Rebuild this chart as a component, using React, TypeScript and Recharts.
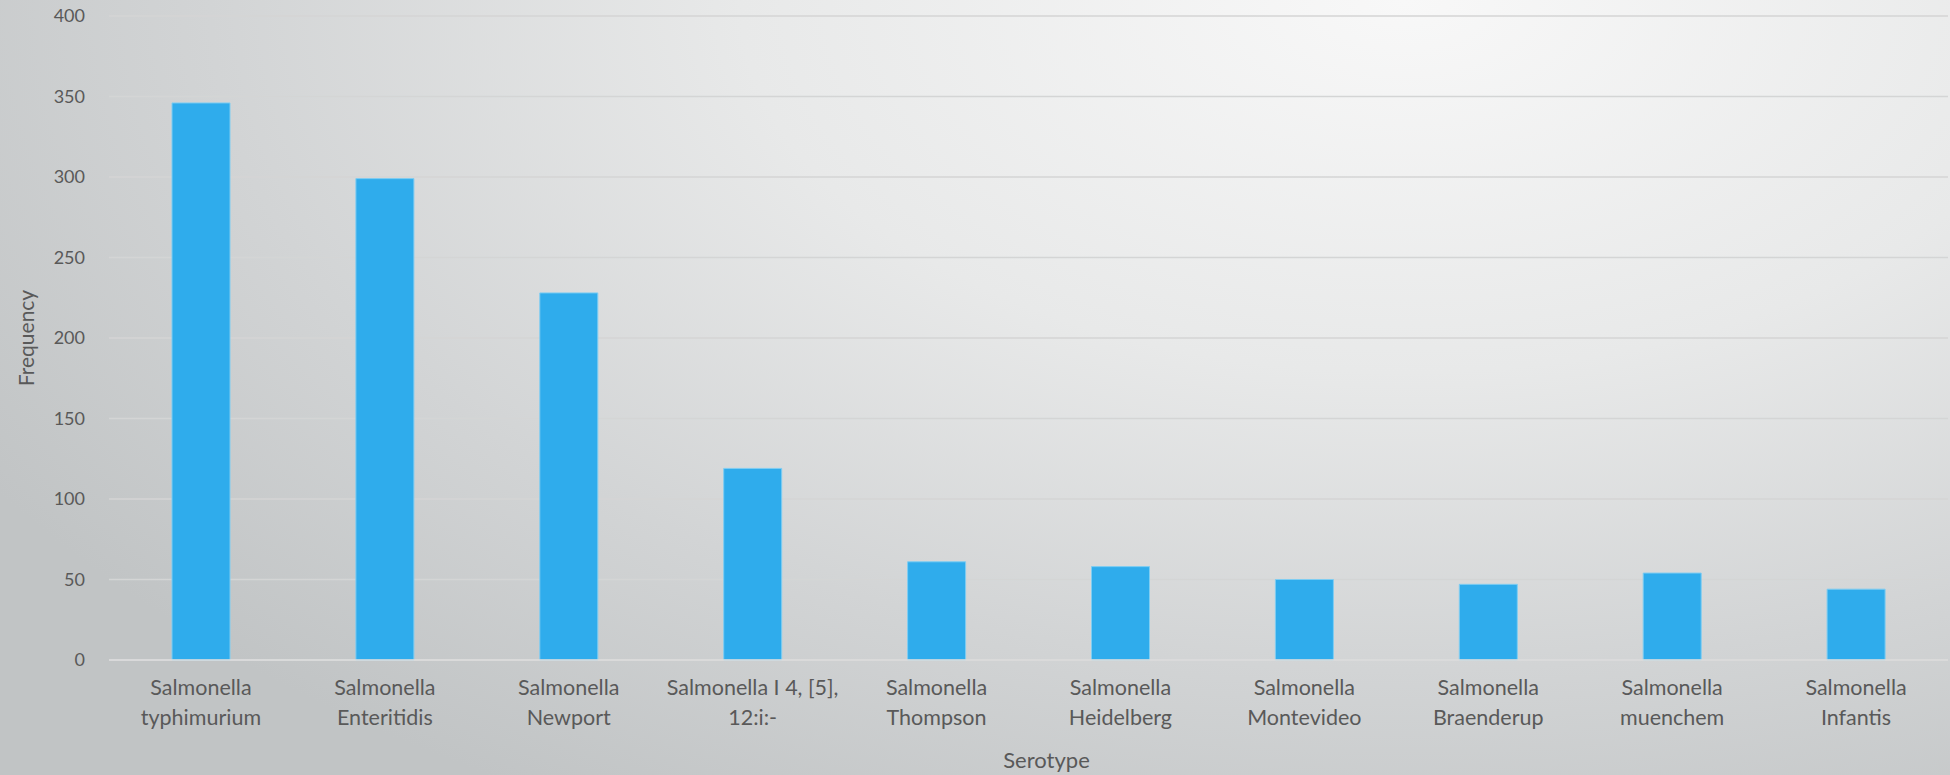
import React from 'react'
import { BarChart, Bar, CartesianGrid, XAxis, YAxis, Label } from 'recharts'

const categories = [
  'Salmonella typhimurium',
  'Salmonella Enteritidis',
  'Salmonella Newport',
  'Salmonella I 4, [5], 12:i:-',
  'Salmonella Thompson',
  'Salmonella Heidelberg',
  'Salmonella Montevideo',
  'Salmonella Braenderup',
  'Salmonella muenchem',
  'Salmonella Infantis'
]

const tickLines = [
  ['Salmonella', 'typhimurium'],
  ['Salmonella', 'Enteritidis'],
  ['Salmonella', 'Newport'],
  ['Salmonella I 4, [5],', '12:i:-'],
  ['Salmonella', 'Thompson'],
  ['Salmonella', 'Heidelberg'],
  ['Salmonella', 'Montevideo'],
  ['Salmonella', 'Braenderup'],
  ['Salmonella', 'muenchem'],
  ['Salmonella', 'Infantis']
]

const frequency = [346, 299, 228, 119, 61, 58, 50, 47, 54, 44]

const yTicks = [0, 50, 100, 150, 200, 250, 300, 350, 400]

const data = categories.map((name, i) => ({ name, value: frequency[i] }))

const TEXT = '#595959'
const FONT = 'Lato, "Open Sans", sans-serif'

function CategoryTick({ x, y, payload }: any) {
  const idx = categories.indexOf(payload.value)
  const lines = tickLines[idx] || [payload.value]
  return (
    <text x={x} y={y} textAnchor="middle" fill={TEXT} fontSize={21.5} fontFamily={FONT}>
      {lines.map((l, i) => (
        <tspan key={i} x={x} dy={i === 0 ? '0.66em' : '1.37em'}>
          {l}
        </tspan>
      ))}
    </text>
  )
}

function FrequencyLabel({ viewBox }: any) {
  const cx = 25
  const cy = viewBox.y + viewBox.height / 2
  return (
    <text
      x={cx}
      y={cy}
      transform={`rotate(-90 ${cx} ${cy})`}
      textAnchor="middle"
      dominantBaseline="central"
      fill={TEXT}
      fontSize={21}
      fontFamily={FONT}
    >
      Frequency
    </text>
  )
}

export default function App() {
  return (
    <div
      style={{
        position: 'absolute',
        left: 0,
        top: 0,
        width: 1950,
        height: 775,
        background:
          'radial-gradient(ellipse 85% 120% at 72% 0%, #f8f8f8 0%, #e8e9e9 40%, #d2d4d5 72%, #c1c4c5 100%)'
      }}
    >
      <BarChart
        width={1950}
        height={775}
        data={data}
        margin={{ top: 16, right: 2, left: 0, bottom: 0 }}
        barSize={58}
      >
        <CartesianGrid vertical={false} stroke="#d4d5d5" strokeWidth={1.5} />
        <XAxis
          dataKey="name"
          height={115}
          interval={0}
          tickLine={false}
          axisLine={{ stroke: '#dcdcdc', strokeWidth: 1.5 }}
          tickMargin={15}
          tick={<CategoryTick />}
        >
          <Label
            value="Serotype"
            position="insideBottom"
            offset={7}
            dx={18}
            fill={TEXT}
            fontSize={22}
            fontFamily={FONT}
          />
        </XAxis>
        <YAxis
          width={109}
          domain={[0, 400]}
          ticks={yTicks}
          interval={0}
          tickLine={false}
          axisLine={false}
          tickMargin={18}
          tick={{ fill: TEXT, fontSize: 18, fontFamily: FONT }}
          label={<FrequencyLabel />}
        />
        <Bar dataKey="value" fill="#2facec" stroke="#7fcdf2" strokeWidth={1} isAnimationActive={false} />
      </BarChart>
    </div>
  )
}
